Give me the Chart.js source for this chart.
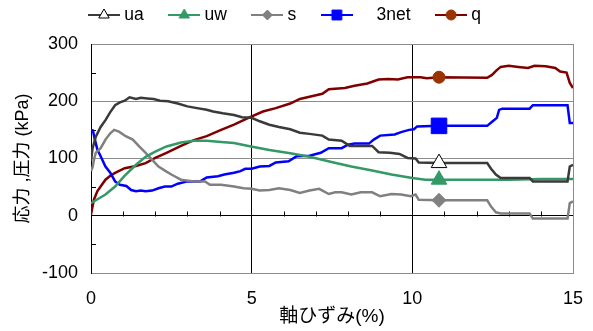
<!DOCTYPE html>
<html>
<head>
<meta charset="utf-8">
<script src="https://cdn.jsdelivr.net/npm/chart.js@4/dist/chart.umd.min.js"></script>
<style>
  html, body { margin: 0; padding: 0; background: #fff; }
</style>
</head>
<body>
<canvas id="chart" width="593" height="331"></canvas>
<script>
// axial strain (%) where each series carries its marker
const MARK_X = 10.83;

// [axial strain %, kPa]
const uaPts = [[0,96],[0.05,118],[0.15,138],[0.3,155],[0.45,167],[0.6,181],[0.75,193],[0.9,198],[1.05,201],
  [1.2,207],[1.4,204],[1.55,206],[1.75,205],[1.95,204],[2.15,201],[2.4,200],[2.7,196],[3.0,191],[3.3,188],
  [3.6,185],[3.8,182],[4.1,179],[4.45,176],[4.7,172],[5.0,171],[5.25,165],[5.55,159],[5.85,155],[6.2,151],
  [6.5,145],[6.8,143],[7.2,140],[7.4,133],[7.8,131],[8.05,122],[8.75,122],[8.95,111],[9.3,110],[9.6,108],
  [9.85,101],[10.1,100],[10.2,93],[MARK_X,92],[12.33,92],[12.45,82],[12.6,72],[12.75,66],[13.65,66],
  [13.75,60],[14.83,60],[14.9,86],[15,89]];

const uwPts = [[0,22],[0.15,27],[0.45,37],[0.75,51],[1.05,70],[1.4,89],[1.7,103],[2.0,112],[2.35,121],
  [2.8,128],[3.2,131],[3.6,131],[4.05,129],[4.45,127],[4.9,122],[5.55,115],[6.2,109],[6.8,103],[7.55,93],
  [8.1,86],[8.75,79],[9.35,72],[10.0,66],[10.4,63],[MARK_X,63],[12,63],[13,63],[14,64],[15,64]];

const sPts = [[0,78],[0.05,85],[0.1,100],[0.15,110],[0.3,118],[0.45,133],[0.6,144],[0.72,150],[0.87,147],
  [1.08,139],[1.3,133],[1.5,121],[1.7,110],[1.9,98],[2.1,86],[2.35,77],[2.5,72],[2.6,69],[2.8,63],[3.2,60],
  [3.55,60],[3.7,54],[4.05,54],[4.45,51],[4.75,48],[5.0,47],[5.25,44],[5.55,45],[5.85,48],[6.2,45],[6.5,40],
  [6.8,44],[7.1,47],[7.4,38],[7.6,41],[7.8,41],[8.1,37],[8.4,41],[8.75,41],[9.0,34],[9.35,38],[9.65,37],
  [9.95,34],[10.1,37],[10.2,28],[MARK_X,27],[12.33,27],[12.45,16],[12.6,6],[12.75,4],[13.65,4],[13.75,-5],
  [14.83,-5],[14.9,22],[15,25]];

const netPts = [[0,150],[0.06,149],[0.12,133],[0.2,115],[0.3,104],[0.45,86],[0.6,75],[0.75,60],[0.9,54],
  [1.1,52],[1.25,45],[1.4,43],[1.55,44],[1.7,43],[1.9,44],[2.1,48],[2.3,51],[2.5,51],[2.7,56],[3.0,60],
  [3.4,60],[3.6,67],[3.95,69],[4.15,72],[4.45,75],[4.65,78],[4.8,82],[5.0,82],[5.25,86],[5.55,87],[5.75,93],
  [6.15,95],[6.4,104],[6.8,105],[7.15,110],[7.4,118],[7.8,118],[8.0,124],[8.2,126],[8.65,126],[8.8,133],
  [9.0,140],[9.45,142],[9.65,146],[9.9,150],[10.05,151],[10.15,156],[MARK_X,157],[12.33,157],[12.5,165],
  [12.63,171],[12.7,185],[12.8,187],[13.65,187],[13.75,193],[14.83,193],[14.9,162],[15,162]];

const qPts = [[0,2],[0.04,14],[0.09,28],[0.2,43],[0.3,51],[0.45,63],[0.6,70],[0.75,75],[1.05,83],[1.4,87],
  [1.7,92],[2.0,101],[2.35,110],[2.8,122],[3.2,132],[3.6,139],[4.05,150],[4.45,159],[4.9,171],[5.35,182],
  [5.75,188],[6.2,196],[6.5,204],[6.8,208],[7.2,213],[7.4,221],[7.9,223],[8.2,227],[8.6,231],[8.95,238],
  [9.25,239],[9.55,238],[9.85,242],[10.1,242],[10.25,242],[10.45,240],[MARK_X,242],[12.33,241],[12.48,246],
  [12.62,254],[12.75,260],[13.0,262],[13.3,260],[13.6,258],[13.8,262],[14.15,261],[14.45,258],[14.6,252],
  [14.8,250],[14.9,232],[15,223]];

const labels = ['ua', 'uw', 's', '    3net', 'q'];
const xTicks = [0, 5, 10, 15];
const yTicks = [-100, 0, 100, 200, 300];

const FONT = '"Liberation Sans", "Noto Sans CJK JP", sans-serif';

const series = [
  { pts: uaPts, line: '#3a3a3a', style: 'triangle', fill: '#ffffff', edge: '#000000', r: 9, lr: 6 },
  { pts: uwPts, line: '#339966', style: 'triangle', fill: '#339966', edge: '#339966', r: 9, lr: 6 },
  { pts: sPts, line: '#808080', style: 'rectRot', fill: '#808080', edge: '#808080', r: 7, lr: 5 },
  { pts: netPts, line: '#0000ff', style: 'rect', fill: '#0000ff', edge: '#0000ff', r: 11, lr: 7 },
  { pts: qPts, line: '#800000', style: 'circle', fill: '#993300', edge: '#993300', r: 6, lr: 5 }
];

// small line + marker swatch for the legend
function legendIcon(s) {
  const c = document.createElement('canvas');
  c.width = 32; c.height = 18;
  const g = c.getContext('2d');
  g.strokeStyle = s.line; g.lineWidth = 2;
  g.beginPath(); g.moveTo(0, 9); g.lineTo(32, 9); g.stroke();
  const cx = 16, cy = 9, r = s.lr;
  g.beginPath();
  if (s.style === 'triangle') {
    g.moveTo(cx, cy - r); g.lineTo(cx + r * 0.866, cy + r / 2); g.lineTo(cx - r * 0.866, cy + r / 2); g.closePath();
  } else if (s.style === 'rectRot') {
    g.moveTo(cx, cy - r); g.lineTo(cx + r, cy); g.lineTo(cx, cy + r); g.lineTo(cx - r, cy); g.closePath();
  } else if (s.style === 'rect') {
    const h = r * Math.SQRT1_2; g.rect(cx - h, cy - h, 2 * h, 2 * h);
  } else {
    g.arc(cx, cy, r, 0, Math.PI * 2);
  }
  g.fillStyle = s.fill; g.fill();
  g.strokeStyle = s.edge; g.lineWidth = 1; g.stroke();
  return c;
}

// Excel-style minor tick marks on the zero line and the value axis
const minorTicks = {
  id: 'minorTicks',
  beforeDatasetsDraw(chart) {
    const { ctx, scales: { x, y } } = chart;
    ctx.save();
    ctx.strokeStyle = '#000';
    ctx.lineWidth = 1;
    ctx.beginPath();
    const y0 = Math.round(y.getPixelForValue(0)) + 0.5;
    for (let v = 1; v < 15; v++) {
      if (v % 5 === 0) continue;
      const px = Math.round(x.getPixelForValue(v)) + 0.5;
      ctx.moveTo(px, y0); ctx.lineTo(px, y0 - 5);
    }
    const x0 = Math.round(x.getPixelForValue(0));
    for (const v of [250, 150, 50, -50]) {
      const py = Math.round(y.getPixelForValue(v)) + 0.5;
      ctx.moveTo(x0, py); ctx.lineTo(x0 + 5, py);
    }
    ctx.stroke();
    ctx.restore();
  }
};

// put the legend row across the top band
const LEG_PAD = 29, LEG_FONT = 17.5;
const legendPlace = {
  id: 'legendPlace',
  afterLayout(chart) {
    const lg = chart.legend;
    const w = lg.width, h = lg.height;
    lg.left = 92.5 - LEG_PAD;
    lg.right = lg.left + w;
    lg.top = 15 - LEG_FONT / 2 - LEG_PAD;
    lg.bottom = lg.top + h;
  }
};

const icons = series.map(legendIcon);

new Chart(document.getElementById('chart'), {
  type: 'line',
  data: {
    datasets: series.map((s, i) => ({
      label: labels[i],
      data: s.pts.map(([x, y]) => ({ x, y })),
      borderColor: s.line,
      borderWidth: 2.5,
      tension: 0,
      fill: false,
      pointStyle: s.style,
      pointBackgroundColor: s.fill,
      pointBorderColor: s.edge,
      pointBorderWidth: 1,
      pointRadius: ctx => (ctx.raw && ctx.raw.x === MARK_X ? s.r : 0),
      pointHoverRadius: ctx => (ctx.raw && ctx.raw.x === MARK_X ? s.r : 0)
    }))
  },
  options: {
    responsive: false,
    animation: false,
    events: [],
    layout: { padding: { left: 4, right: 20, top: -12.5, bottom: 0 } },
    font: { family: FONT },
    plugins: {
      tooltip: { enabled: false },
      legend: {
        position: 'top',
        align: 'start',
        labels: {
          usePointStyle: true,
          pointStyleWidth: 23,
          padding: LEG_PAD,
          color: '#000',
          font: { family: FONT, size: LEG_FONT },
          generateLabels: chart => chart.data.datasets.map((ds, i) => ({
            text: ds.label,
            pointStyle: icons[i],
            datasetIndex: i,
            fontColor: '#000',
            fillStyle: 'transparent',
            strokeStyle: 'transparent',
            lineWidth: 0,
            hidden: false
          }))
        }
      }
    },
    scales: {
      x: {
        type: 'linear',
        min: 0,
        max: 15,
        afterFit: s => { s.height = 58; },
        afterBuildTicks: s => {
          s.ticks = Array.from({ length: 16 }, (_, v) => ({ value: v }));
        },
        ticks: {
          autoSkip: false,
          maxRotation: 0,
          padding: 0,
          color: '#000',
          font: { family: FONT, size: 18 },
          callback: v => (xTicks.includes(v) ? String(v) : '')
        },
        grid: {
          drawTicks: true,
          tickLength: 15,
          tickColor: 'rgba(0,0,0,0)',
          lineWidth: 1,
          color: ctx => {
            const v = ctx.tick && ctx.tick.value;
            if (v === 5 || v === 10) return '#000';
            if (v === 15) return '#8c8c8c';
            return 'rgba(0,0,0,0)';
          }
        },
        border: { color: '#8c8c8c', width: 1 },
        title: {
          display: true,
          text: '軸ひずみ(%)',
          color: '#000',
          font: { family: FONT, size: 19 },
          padding: { top: 0, bottom: 3 }
        }
      },
      y: {
        min: -100,
        max: 300,
        afterFit: s => { s.width = 87; },
        afterBuildTicks: s => {
          s.ticks = Array.from({ length: 9 }, (_, i) => ({ value: -100 + 50 * i }));
        },
        ticks: {
          padding: 13,
          color: '#000',
          font: { family: FONT, size: 18 },
          callback: v => (yTicks.includes(v) ? String(v) : '')
        },
        grid: {
          drawTicks: false,
          lineWidth: 1,
          color: ctx => {
            const v = ctx.tick && ctx.tick.value;
            if (v === 0) return '#000';
            if (v % 100 === 0) return '#8c8c8c';
            return 'rgba(0,0,0,0)';
          }
        },
        border: { color: '#000', width: 1 },
        title: {
          display: true,
          text: '応力 ,圧力 (kPa)',
          color: '#000',
          font: { family: FONT, size: 18 },
          padding: { top: 8, bottom: 0 }
        }
      }
    }
  },
  plugins: [minorTicks, legendPlace]
});
</script>
</body>
</html>
